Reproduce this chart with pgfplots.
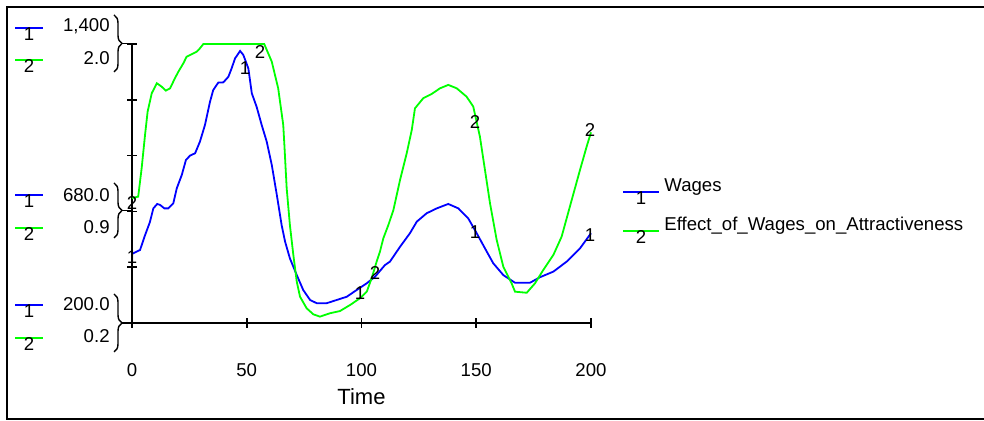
\documentclass[border=0pt]{standalone}
\usepackage{pgfplots}
\pgfplotsset{compat=1.18}
\usepackage{fontspec}
\setmainfont{Liberation Sans}
\usetikzlibrary{decorations.pathreplacing}
\definecolor{cblue}{RGB}{0,0,255}
\definecolor{cgreen}{RGB}{0,255,0}

\pgfplotstableread{
t W
0 497
3.5 514
5.7 578
7.8 634
9.3 693
11.0 712
12.2 708
14.1 693
15.8 693
18.0 715
19.5 779
21.7 837
23.5 901
25.3 920
27.5 930
29.6 980
31.8 1052
34.0 1152
35.4 1202
37.6 1234
39.8 1235
42.0 1259
43.4 1295
44.9 1338
47.1 1370
48.5 1353
50.7 1295
52.2 1188
54.3 1130
56.5 1052
58.7 980
60.9 880
63.1 751
65.2 621
66.7 550
68.8 478
71.8 406
74.6 342
77.6 299
80.5 285
84.8 285
89.2 299
93.6 313
97.9 342
102.3 371
105.9 399
110.2 449
112.4 464
116.8 528
121.1 586
124.1 636
128.4 672
132.8 693
137.8 712
142.2 693
146.5 650
150.2 586
153.8 521
157.4 457
161.8 406
166.9 373
173.4 373
177.8 397
183.6 421
189.4 464
195.2 521
200 586
}\wages

\pgfplotstableread{
t E
0 1.006
2.7 1.015
4.2 1.198
5.7 1.416
6.8 1.563
8.6 1.682
10.8 1.747
12.9 1.725
14.7 1.699
16.6 1.714
18.7 1.779
20.2 1.821
22.4 1.876
23.8 1.918
26.0 1.934
28.2 1.950
29.6 1.972
31.1 2.0
57.6 2.0
60.9 1.886
63.7 1.714
65.9 1.478
66.4 1.348
67.4 1.069
68.8 0.832
70.3 0.639
71.8 0.466
73.2 0.370
76.1 0.295
79.0 0.256
81.9 0.241
86.3 0.263
90.6 0.277
95.0 0.316
99.3 0.359
102.3 0.402
104.4 0.488
106.6 0.596
108.0 0.658
109.5 0.746
111.7 0.832
113.9 0.929
116.8 1.123
119.7 1.295
121.9 1.445
123.3 1.585
126.9 1.650
130.6 1.678
134.2 1.714
137.8 1.736
141.5 1.714
145.8 1.660
148.7 1.596
151.6 1.402
153.8 1.187
156.0 0.972
158.9 0.736
161.8 0.563
165.4 0.456
166.9 0.402
172.0 0.395
175.6 0.456
179.2 0.542
183.6 0.639
187.2 0.757
191.6 0.994
195.2 1.187
198.1 1.338
200 1.43
}\effect

\begin{document}
\begin{tikzpicture}[font=\fontsize{9.3}{11}\selectfont]
\path[use as bounding box] (0,0) rectangle (492pt,210.5pt);

\begin{axis}[
  at={(66pt,49pt)}, anchor=south west,
  scale only axis, width=229.5pt, height=139.5pt,
  xmin=0, xmax=200, ymin=200, ymax=1400,
  axis x line=bottom, axis y line=left,
  axis line style={-, line width=0.9pt, black},
  xtick={0,50,100,150,200},
  xticklabels={0,50,100,150,200},
  ytick={200,440,680,920,1160,1400},
  yticklabels={},
  tick align=center, major tick length=5pt,
  tick style={line width=0.8pt, black},
  xticklabel style={anchor=center, yshift=-21pt, font=\fontsize{9.3}{11}\selectfont},
  /pgf/number format/assume math mode=true,
  xlabel={Time},
  xlabel style={at={(axis description cs:0.5,0)}, anchor=center, yshift=-37pt, font=\fontsize{11}{12}\selectfont},
  clip=false,
]
\addplot[cblue, line width=0.9pt] table[x=t, y=W] {\wages};
\end{axis}

\begin{axis}[
  at={(66pt,49pt)}, anchor=south west,
  scale only axis, width=229.5pt, height=139.5pt,
  xmin=0, xmax=200, ymin=0.2, ymax=2.0,
  hide axis, clip=false,
]
\addplot[cgreen, line width=0.9pt] table[x=t, y=E] {\effect};
\end{axis}

\begin{scope}[x=0.5pt, y=-0.5pt, shift={(0pt,210.5pt)}]
  % frame
  \draw[line width=1pt] (984,7) -- (7,7) -- (7,419) -- (984,419);
  % braces
  \draw[line width=0.7pt, decorate, decoration={brace, amplitude=4pt}] (114,15) -- (114,72);
  \draw[line width=0.8pt] (122,43.5) -- (132,43.5);
  \draw[line width=0.7pt, decorate, decoration={brace, amplitude=4pt}] (114,183) -- (114,238);
  \draw[line width=0.8pt] (122,210.5) -- (132,210.5);
  \draw[line width=0.7pt, decorate, decoration={brace, amplitude=4pt}] (114,294) -- (114,352);
  \draw[line width=0.8pt] (122,323) -- (132,323);
  % scale labels
  \node[anchor=base east, inner sep=0] at (110,32) {1,400};
  \node[anchor=base east, inner sep=0] at (110,65) {2.0};
  \node[anchor=base east, inner sep=0] at (110,202) {680.0};
  \node[anchor=base east, inner sep=0] at (110,233.5) {0.9};
  \node[anchor=base east, inner sep=0] at (110,311) {200.0};
  \node[anchor=base east, inner sep=0] at (110,343) {0.2};
  % left mini legends
  \foreach \yb/\yg in {28/60, 195/228, 305/338} {
    \draw[cblue, line width=0.9pt] (15,\yb) -- (43,\yb);
    \node[anchor=north, inner sep=0] at (29,\yb-1) {1};
    \draw[cgreen, line width=0.9pt] (15,\yg) -- (43,\yg);
    \node[anchor=north, inner sep=0] at (29,\yg-1) {2};
  }
  % right legend
  \draw[cblue, line width=0.9pt] (623,192) -- (659,192);
  \node[anchor=north, inner sep=0] at (641,191) {1};
  \node[anchor=base west, inner sep=0] at (664,192) {Wages};
  \draw[cgreen, line width=0.9pt] (623,231) -- (659,231);
  \node[anchor=north, inner sep=0] at (641,230) {2};
  \node[anchor=base west, inner sep=0] at (664,231) {Effect\_of\_Wages\_on\_Attractiveness};
  % curve labels
  \node[inner sep=0] at (132,203) {2};
  \node[inner sep=0] at (132,257) {1};
  \node[inner sep=0] at (245,68) {1};
  \node[inner sep=0] at (260,52) {2};
  \node[inner sep=0] at (360,293) {1};
  \node[inner sep=0] at (375,273) {2};
  \node[inner sep=0] at (475,122) {2};
  \node[inner sep=0] at (475,232) {1};
  \node[inner sep=0] at (590,130) {2};
  \node[inner sep=0] at (590,235) {1};
\end{scope}
\end{tikzpicture}
\end{document}
